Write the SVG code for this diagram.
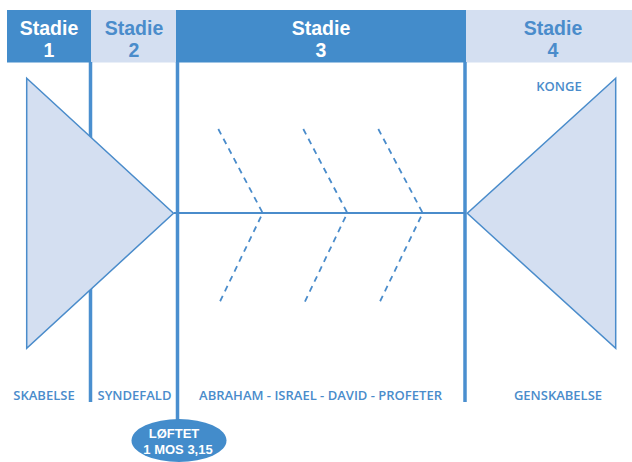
<svg xmlns="http://www.w3.org/2000/svg" width="632" height="462" viewBox="0 0 632 462">
  <style>
    .dark { fill: #438CCB; }
    .light { fill: #D4DFF1; }
    .hd { font-family: "Liberation Sans", Arial, sans-serif; font-size: 19.5px; font-weight: 700; text-anchor: middle; }
    .w { fill: #FFFFFF; }
    .b { fill: #4A8CCB; }
    .lbl { font-family: "Open Sans", "Noto Sans", sans-serif; font-size: 13px; font-weight: 600; text-anchor: middle; fill: #4A8CCB; }
    .pl { font-family: "Liberation Sans", Arial, sans-serif; font-size: 13px; font-weight: 700; text-anchor: middle; fill: #FFFFFF; }
    .vline { stroke: #4A8FCF; stroke-width: 3.5; fill: none; }
    .tri { fill: #D4DFF1; stroke: #4A8CCB; stroke-width: 1.5; stroke-linejoin: miter; }
    .axis { stroke: #4A8CCB; stroke-width: 2; fill: none; }
    .dash { stroke: #4A8CCB; stroke-width: 1.8; fill: none; stroke-dasharray: 6 5; }
  </style>
  <rect width="632" height="462" fill="#FFFFFF"/>

  <g id="header">
    <g id="stage1">
      <rect class="dark" x="7" y="10" width="84" height="52.5"/>
      <text class="hd w" x="49" y="34.5">Stadie</text>
      <text class="hd w" x="49" y="56.5">1</text>
    </g>
    <g id="stage2">
      <rect class="light" x="91" y="10" width="85" height="52.5"/>
      <text class="hd b" x="134" y="34.5">Stadie</text>
      <text class="hd b" x="134" y="56.5">2</text>
    </g>
    <g id="stage3">
      <rect class="dark" x="176" y="10" width="290" height="52.5"/>
      <text class="hd w" x="321" y="34.5">Stadie</text>
      <text class="hd w" x="321" y="56.5">3</text>
    </g>
    <g id="stage4">
      <rect class="light" x="466" y="10" width="166" height="52.5"/>
      <text class="hd b" x="553" y="34.5">Stadie</text>
      <text class="hd b" x="553" y="56.5">4</text>
    </g>
  </g>

  <g id="dividers">
    <line class="vline" x1="90.5" y1="62" x2="90.5" y2="402"/>
    <line class="vline" x1="177.5" y1="62" x2="177.5" y2="422"/>
    <line class="vline" x1="465" y1="62" x2="465" y2="402"/>
  </g>

  <g id="connectors">
    <line class="axis" x1="174" y1="213" x2="466" y2="213"/>
    <path class="dash" d="M218.3,129 L262.7,213 L218.3,305"/>
    <path class="dash" d="M303.3,129 L347.3,213 L303.3,305"/>
    <path class="dash" d="M378.3,129 L422.7,213 L378.3,305"/>
  </g>

  <g id="creation-triangle">
    <polygon class="tri" points="26.7,78.3 173.5,213.3 26.7,348.3"/>
  </g>
  <g id="new-creation-triangle">
    <polygon class="tri" points="615.7,78.3 467.3,213.3 615.7,348.3"/>
  </g>

  <g id="label-konge">
    <text class="lbl" x="559" y="90.5">KONGE</text>
  </g>
  <g id="label-skabelse">
    <text class="lbl" x="44" y="400">SKABELSE</text>
  </g>
  <g id="label-syndefald">
    <text class="lbl" x="134.5" y="400">SYNDEFALD</text>
  </g>
  <g id="label-stage3">
    <text class="lbl" x="320.5" y="400">ABRAHAM - ISRAEL - DAVID - PROFETER</text>
  </g>
  <g id="label-genskabelse">
    <text class="lbl" x="558" y="400">GENSKABELSE</text>
  </g>

  <g id="promise">
    <ellipse class="dark" cx="179" cy="440.5" rx="47.5" ry="21.5"/>
    <text class="pl" x="174" y="438">LØFTET</text>
    <text class="pl" x="178" y="454">1 MOS 3,15</text>
  </g>
</svg>
